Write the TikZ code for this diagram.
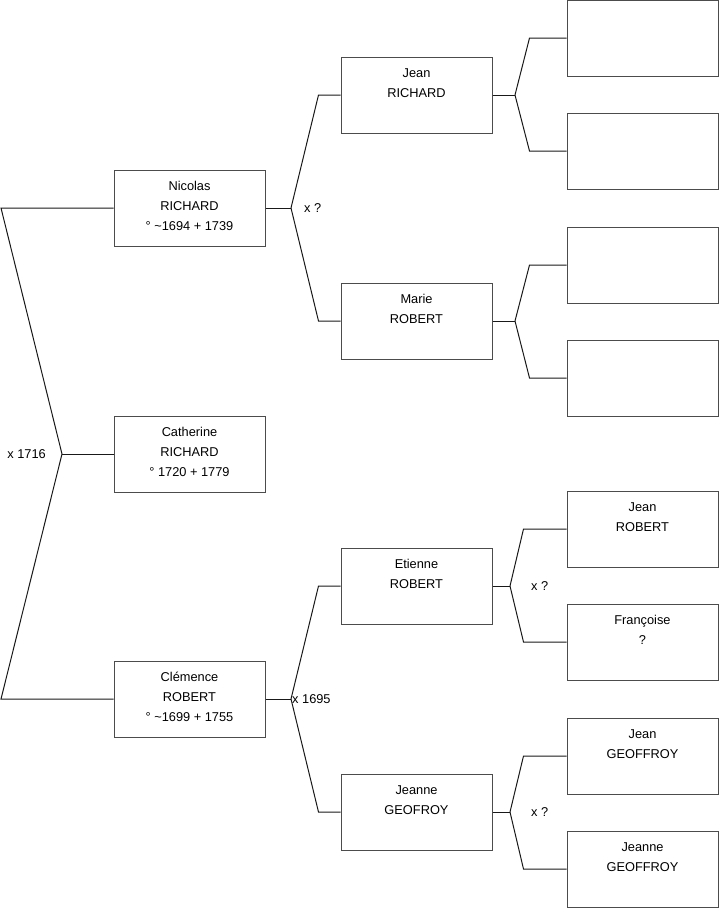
\documentclass[tikz,border=0pt]{standalone}
\usepackage{fontspec}
\setmainfont{Liberation Sans}
\usetikzlibrary{positioning}

\newcommand{\fiche}[1]{\parbox[c][76pt][t]{151pt}{\centering\rule{0pt}{20.5pt}#1}}

\begin{document}
\begin{tikzpicture}[
    x=1pt, y=-1pt,
    box/.style={rectangle, draw=black!70, line width=1pt, inner sep=0pt, font=\fontsize{12.8}{20}\selectfont},
    lien/.style={draw=black!90, line width=1pt},
    union/.style={font=\fontsize{12.8}{14}\selectfont, inner sep=0pt}
]
    \useasboundingbox (0,0) rectangle (719,908);

    % generation 1 et 2
    \node[box] (nicolas) at (189.5,208) {\fiche{Nicolas\\RICHARD\\° \textasciitilde1694 + 1739}};
    \node[box] (catherine) at (189.5,454) {\fiche{Catherine\\RICHARD\\° 1720 + 1779}};
    \node[box] (clemence) at (189.5,699) {\fiche{Clémence\\ROBERT\\° \textasciitilde1699 + 1755}};

    % generation 3
    \node[box] (jean) at (416.5,95) {\fiche{Jean\\RICHARD}};
    \node[box] (marie) at (416.5,321) {\fiche{Marie\\ROBERT}};
    \node[box] (etienne) at (416.5,586) {\fiche{Etienne\\ROBERT}};
    \node[box] (jeanne) at (416.5,812) {\fiche{Jeanne\\GEOFROY}};

    % generation 4
    \node[box] (jeanA) at (642.5,38) {\fiche{}};
    \node[box] (jeanB) at (642.5,151) {\fiche{}};
    \node[box] (marieA) at (642.5,265) {\fiche{}};
    \node[box] (marieB) at (642.5,378) {\fiche{}};
    \node[box] (etienneA) at (642.5,529) {\fiche{Jean\\ROBERT}};
    \node[box] (etienneB) at (642.5,642) {\fiche{Françoise\\?}};
    \node[box] (jeanneA) at (642.5,756) {\fiche{Jean\\GEOFFROY}};
    \node[box] (jeanneB) at (642.5,869) {\fiche{Jeanne\\GEOFFROY}};

    % fourches
    \coordinate (f1) at (62,454);
    \coordinate (f1a) at (1,208);
    \coordinate (f1b) at (1,699);
    \coordinate (f2) at (291,208);
    \coordinate (f3) at (291,699);
    \coordinate (f4) at (515,95);
    \coordinate (f5) at (515,321);
    \coordinate (f6) at (510,586);
    \coordinate (f7) at (510,812);

    \draw[lien] (nicolas.west) -- (f1a) -- (f1) -- (f1b) -- (clemence.west);
    \draw[lien] (f1) -- (catherine.west);

    \draw[lien] (nicolas.east) -- (f2);
    \draw[lien] (f2) -- ([xshift=-22pt]jean.west) -- (jean.west);
    \draw[lien] (f2) -- ([xshift=-22pt]marie.west) -- (marie.west);

    \draw[lien] (clemence.east) -- (f3);
    \draw[lien] (f3) -- ([xshift=-22pt]etienne.west) -- (etienne.west);
    \draw[lien] (f3) -- ([xshift=-22pt]jeanne.west) -- (jeanne.west);

    \draw[lien] (jean.east) -- (f4);
    \draw[lien] (f4) -- ([xshift=-37pt]jeanA.west) -- (jeanA.west);
    \draw[lien] (f4) -- ([xshift=-37pt]jeanB.west) -- (jeanB.west);

    \draw[lien] (marie.east) -- (f5);
    \draw[lien] (f5) -- ([xshift=-37pt]marieA.west) -- (marieA.west);
    \draw[lien] (f5) -- ([xshift=-37pt]marieB.west) -- (marieB.west);

    \draw[lien] (etienne.east) -- (f6);
    \draw[lien] (f6) -- ([xshift=-43pt]etienneA.west) -- (etienneA.west);
    \draw[lien] (f6) -- ([xshift=-43pt]etienneB.west) -- (etienneB.west);

    \draw[lien] (jeanne.east) -- (f7);
    \draw[lien] (f7) -- ([xshift=-43pt]jeanneA.west) -- (jeanneA.west);
    \draw[lien] (f7) -- ([xshift=-43pt]jeanneB.west) -- (jeanneB.west);

    % mariages
    \node[union, left=16pt of f1] (x1716) {x 1716};
    \node[union, right=13pt of f2] (x2) {x ?};
    \node[union, right=1pt of f3] (x1695) {x 1695};
    \node[union, right=21pt of f6] (x6) {x ?};
    \node[union, right=21pt of f7] (x7) {x ?};
\end{tikzpicture}
\end{document}
